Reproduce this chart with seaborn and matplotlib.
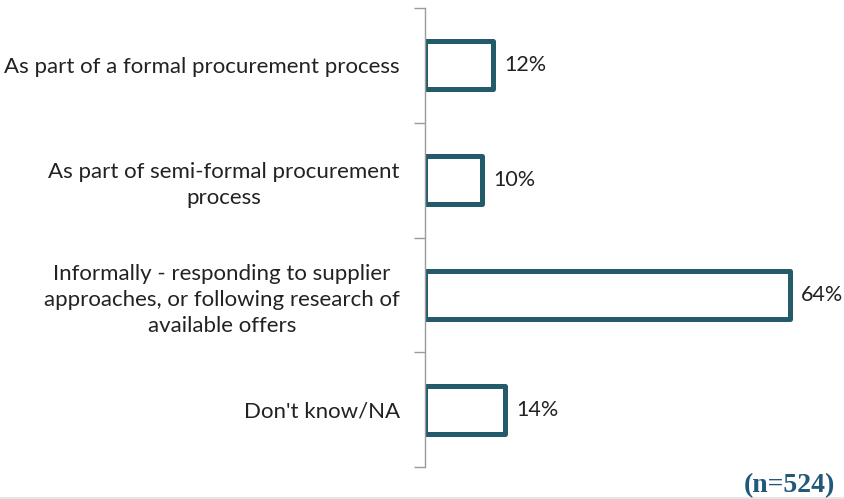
import matplotlib
matplotlib.use("Agg")
import matplotlib.pyplot as plt
import seaborn as sns
import numpy as np
import pandas as pd

# data
categories = [
    "As part of a formal procurement process",
    "As part of semi-formal procurement\nprocess",
    "Informally - responding to supplier\napproaches, or following research of\navailable offers",
    "Don't know/NA",
]
values = [12, 10, 64, 14]
sample_note = "(n=524)"

BAR_EDGE = "#245B6A"
NOTE_COLOR = "#22597A"

sns.set_theme(style="white")
plt.rcParams["font.family"] = ["Lato", "DejaVu Sans"]

df = pd.DataFrame({"answer": categories, "share": values})

fig = plt.figure(figsize=(8.44, 4.99), dpi=100)
ax = fig.add_axes([425 / 844, 1 - 467 / 499, 1 - 425 / 844, (467 - 8) / 499])

sns.barplot(data=df, x="share", y="answer", orient="h", color="white",
            edgecolor=BAR_EDGE, linewidth=3.6, width=0.42, ax=ax)
for p in ax.patches:
    p.set_joinstyle("round")
    p.set_facecolor("white")

ax.bar_label(ax.containers[0], labels=[f"{v}%" for v in values],
             padding=8, fontsize=15.5, color="#222222")

ax.set_xlim(0, 73.5)
ax.set_ylim(len(categories) - 0.5, -0.5)
ax.set_xlabel(""); ax.set_ylabel("")
ax.set_xticks([])

# category labels on major ticks, separator ticks on minor
ax.set_yticks(range(len(categories)))
ax.set_yticklabels(categories, fontsize=16, color="#222222",
                   linespacing=1.38, multialignment="center")
ax.set_yticks(np.arange(-0.5, len(categories)), minor=True)
ax.tick_params(axis="y", which="major", length=0, pad=18)
ax.tick_params(axis="y", which="minor", length=8, width=1,
               color="#9A9A9A", left=True)

for s in ["top", "right", "bottom"]:
    ax.spines[s].set_visible(False)
ax.spines["left"].set_color("#9A9A9A")
ax.spines["left"].set_linewidth(1)

fig.text(835 / 844, 1 - 492 / 499, sample_note, ha="right", va="baseline",
         fontsize=20, fontweight="bold", color=NOTE_COLOR,
         family=["Liberation Serif", "DejaVu Serif"])

# faint rule along the bottom edge
fig.add_artist(plt.Line2D([0, 1], [1.5 / 499, 1.5 / 499], color="#E6E6E6",
                          lw=1.5, transform=fig.transFigure))

fig.savefig("out.png", dpi=100)
